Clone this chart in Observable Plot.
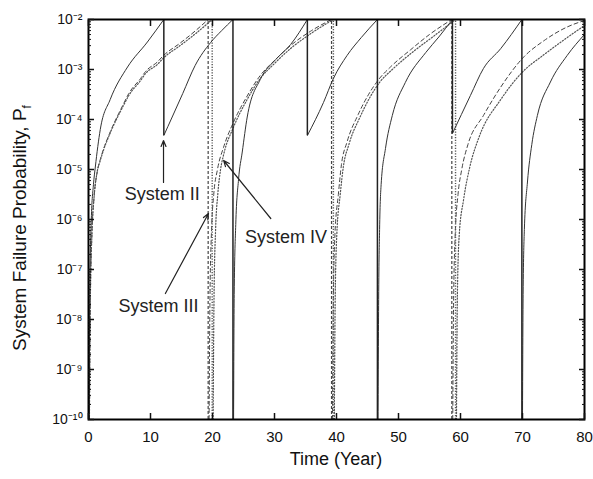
<!DOCTYPE html>
<html>
<head>
<meta charset="utf-8">
<script src="https://cdn.jsdelivr.net/npm/d3@7"></script>
<script src="https://cdn.jsdelivr.net/npm/@observablehq/plot@0.6"></script>
<style>
  html, body { margin: 0; padding: 0; background: #fff; }
  #chart svg { display: block; }
</style>
</head>
<body>
<div id="chart"></div>
<script>
// ---------- data (time in years, log10 of failure probability) ----------
const xTicks = [0, 10, 20, 30, 40, 50, 60, 70, 80];
const yTickExponents = [-10, -9, -8, -7, -6, -5, -4, -3, -2];

// System II (solid) – segments between repairs
const sys2Segments = [
  [[0.1,-10],[0.2,-7.5],[0.45,-6.0],[0.8,-5.3],[1.1,-4.95],[1.9,-4.2],[3.5,-3.6],[6.3,-2.95],[9.5,-2.45],[12.15,-2.0]],
  [[12.15,-4.32],[13.5,-3.95],[15.2,-3.48],[17.2,-2.92],[19.7,-2.46],[21.5,-2.22],[23.3,-2.0]],
  [[23.4,-10],[23.5,-7.5],[23.75,-6.1],[24.2,-5.2],[24.8,-4.65],[25.6,-3.95],[27.7,-3.2],[30.2,-2.8],[32.6,-2.5],[35.3,-2.0]],
  [[35.3,-4.32],[37.9,-3.66],[39.5,-3.18],[41.7,-2.72],[44.0,-2.36],[46.6,-2.0]],
  [[46.7,-10],[46.8,-7.6],[46.95,-6.2],[47.2,-5.3],[47.9,-4.58],[49.0,-3.92],[51.1,-3.26],[54.4,-2.66],[56.5,-2.35],[58.7,-2.0]],
  [[58.7,-4.28],[61.6,-3.52],[63.7,-2.98],[66.5,-2.58],[69.9,-2.0]],
  [[70.0,-10],[70.1,-7.5],[70.3,-6.2],[70.8,-5.25],[71.5,-4.5],[72.4,-3.92],[74.5,-3.25],[77.2,-2.72],[80,-2.3]]
];
const sys2Drops = [[12.15,-4.32],[23.3,-10],[35.3,-4.32],[46.6,-10],[58.7,-4.28],[69.9,-10]];

// System III (dashed)
const sys3Segments = [
  [[0.15,-10],[0.3,-7.6],[0.55,-6.3],[0.9,-5.55],[1.4,-5.05],[1.9,-4.8],[2.4,-4.6],[3.5,-4.25],[5.6,-3.7],[6.5,-3.48],[8.4,-3.18],[9.2,-3.04],[11.1,-2.85],[12.1,-2.72],[14.8,-2.47],[17.3,-2.22],[19.3,-2.0]],
  [[19.45,-10],[19.6,-7.5],[19.85,-6.2],[20.2,-5.5],[20.8,-5.0],[21.8,-4.55],[23.4,-4.05],[25.5,-3.55],[27.7,-3.12],[30.0,-2.82],[32.6,-2.52],[36.0,-2.22],[39.2,-2.0]],
  [[39.35,-10],[39.5,-7.5],[39.75,-6.3],[40.3,-5.5],[40.8,-4.9],[41.7,-4.45],[43.5,-3.9],[46.8,-3.2],[48.7,-2.95],[52.0,-2.6],[55.0,-2.3],[58.6,-2.0]],
  [[58.75,-10],[58.9,-7.5],[59.15,-6.3],[59.6,-5.5],[60.2,-5.0],[61.2,-4.5],[63.7,-3.92],[66.5,-3.35],[70.2,-2.75],[73.5,-2.42],[77.2,-2.15],[80,-2.02]]
];
const sys3Drops = [[19.3,-10],[39.2,-10],[58.6,-10]];

// System IV (dotted)
const sys4Segments = [
  [[0.15,-10],[0.3,-7.6],[0.55,-6.3],[0.9,-5.55],[1.4,-5.05],[1.9,-4.82],[2.4,-4.62],[3.5,-4.27],[5.6,-3.73],[6.5,-3.52],[8.4,-3.22],[9.2,-3.08],[11.1,-2.9],[12.1,-2.77],[14.8,-2.52],[17.3,-2.28],[19.95,-2.0]],
  [[20.1,-10],[20.25,-7.5],[20.5,-6.2],[20.85,-5.5],[21.3,-5.0],[21.8,-4.7],[23.4,-4.15],[25.5,-3.62],[27.7,-3.18],[30.0,-2.88],[32.6,-2.58],[36.0,-2.27],[39.5,-2.0]],
  [[39.65,-10],[39.8,-7.5],[40.05,-6.3],[40.6,-5.5],[41.1,-4.95],[42.0,-4.5],[43.8,-3.95],[47.0,-3.25],[49.0,-3.0],[52.3,-2.65],[55.5,-2.35],[59.2,-2.0]],
  [[59.35,-10],[59.5,-7.5],[59.8,-6.3],[60.5,-5.6],[61.5,-4.95],[63.0,-4.35],[66.5,-3.6],[70.0,-3.05],[73.5,-2.7],[77.0,-2.38],[80,-2.12]]
];
const sys4Drops = [[19.95,-10],[39.5,-10],[59.2,-10]];
const dropTop = -2;

// annotations
const labelTexts = ["System II", "System III", "System IV"];
const labelT = [11.9, 11.3, 31.85];
const labelE = [-5.49, -7.73, -6.36];
const arrowFrom = [[12.1,-5.26],[12.4,-7.48],[29.4,-5.98]];
const arrowTo   = [[12.1,-4.42],[19.35,-5.88],[21.8,-4.82]];

// ---------- build tables ----------
const toRows = (segs) => segs.flatMap((seg, i) => seg.map(([t, e]) => ({t, p: 10 ** e, seg: i})));
const toDrops = (drops) => drops.map(([t, e]) => ({t, lo: 10 ** e, hi: 10 ** dropTop}));
const rows2 = toRows(sys2Segments), rows3 = toRows(sys3Segments), rows4 = toRows(sys4Segments);
const drops2 = toDrops(sys2Drops), drops3 = toDrops(sys3Drops), drops4 = toDrops(sys4Drops);
const labels = labelTexts.map((text, i) => ({text, t: labelT[i], p: 10 ** labelE[i]}));
const arrows = arrowFrom.map((a, i) => ({x1: a[0], y1: 10 ** a[1], x2: arrowTo[i][0], y2: 10 ** arrowTo[i][1]}));

const yMajor = yTickExponents.map(e => 10 ** e);
const yMinor = yTickExponents.slice(0, -1).flatMap(e => d3.range(2, 10).map(k => k * 10 ** e));
const supMap = {"-": "\u207B", "0": "\u2070", "1": "\u00B9", "2": "\u00B2", "3": "\u00B3", "4": "\u2074", "5": "\u2075", "6": "\u2076", "7": "\u2077", "8": "\u2078", "9": "\u2079"};
const fmtPow = d => "10" + String(Math.round(Math.log10(d))).split("").map(c => supMap[c]).join("");
const blank = () => "";

const ink = "#222";
const chart = Plot.plot({
  width: 593,
  height: 479,
  marginLeft: 88,
  marginRight: 9,
  marginTop: 19,
  marginBottom: 60,
  style: {fontFamily: "'Liberation Sans', Arial, sans-serif", background: "#fff", color: "#111"},
  x: {domain: [0, 80]},
  y: {type: "log", domain: [1e-10, 1e-2]},
  marks: [
    Plot.line(rows3, {x: "t", y: "p", z: "seg", stroke: "#444", strokeWidth: 1, strokeDasharray: "4,3", curve: "monotone-x", clip: true}),
    Plot.ruleX(drops3, {x: "t", y1: "lo", y2: "hi", stroke: "#444", strokeWidth: 1.2, strokeDasharray: "3,2"}),
    Plot.line(rows4, {x: "t", y: "p", z: "seg", stroke: "#555", strokeWidth: 1.2, strokeDasharray: "1.2,1.8", curve: "monotone-x", clip: true}),
    Plot.ruleX(drops4, {x: "t", y1: "lo", y2: "hi", stroke: "#555", strokeWidth: 1.4, strokeDasharray: "1.2,1.5"}),
    Plot.line(rows2, {x: "t", y: "p", z: "seg", stroke: "#333", strokeWidth: 1, curve: "monotone-x", clip: true}),
    Plot.ruleX(drops2, {x: "t", y1: "lo", y2: "hi", stroke: "#222", strokeWidth: 1.5}),
    Plot.arrow(arrows, {x1: "x1", y1: "y1", x2: "x2", y2: "y2", stroke: ink, strokeWidth: 1.2, headLength: 8, headAngle: 45}),
    Plot.text(labels, {x: "t", y: "p", text: "text", fontSize: 18, fill: ink, textAnchor: "middle", lineAnchor: "middle"}),
    Plot.frame({stroke: "#000", strokeWidth: 2}),
    Plot.axisX({anchor: "bottom", ticks: xTicks, tickSize: 0, tickPadding: 12, fontSize: 15, label: null}),
    Plot.axisX({anchor: "bottom", ticks: xTicks, tickSize: -6, tickFormat: blank, label: null, strokeWidth: 1.5}),
    Plot.axisX({anchor: "top", ticks: xTicks, tickSize: -6, tickFormat: blank, label: null, strokeWidth: 1.5}),
    Plot.axisY({anchor: "left", ticks: yMajor, tickSize: 0, tickPadding: 6, tickFormat: fmtPow, fontSize: 14, label: null}),
    Plot.axisY({anchor: "left", ticks: yMajor, tickSize: -6, tickFormat: blank, label: null, strokeWidth: 1.5}),
    Plot.axisY({anchor: "left", ticks: yMinor, tickSize: -3, tickFormat: blank, label: null}),
    Plot.axisY({anchor: "right", ticks: yMajor, tickSize: -6, tickFormat: blank, label: null, strokeWidth: 1.5}),
    Plot.axisY({anchor: "right", ticks: yMinor, tickSize: -3, tickFormat: blank, label: null})
  ]
});

// axis titles
const svg = d3.select(chart);
svg.append("text")
  .attr("x", 336).attr("y", 465)
  .attr("text-anchor", "middle")
  .attr("font-size", 18)
  .attr("fill", "#111")
  .text("Time (Year)");
const yl = svg.append("text")
  .attr("transform", "translate(26,228) rotate(-90)")
  .attr("text-anchor", "middle")
  .attr("font-size", 19)
  .attr("fill", "#111");
yl.append("tspan").text("System Failure Probability, P");
yl.append("tspan").attr("font-size", 12).attr("dy", 5).text("f");

document.getElementById("chart").appendChild(chart);
</script>
</body>
</html>
